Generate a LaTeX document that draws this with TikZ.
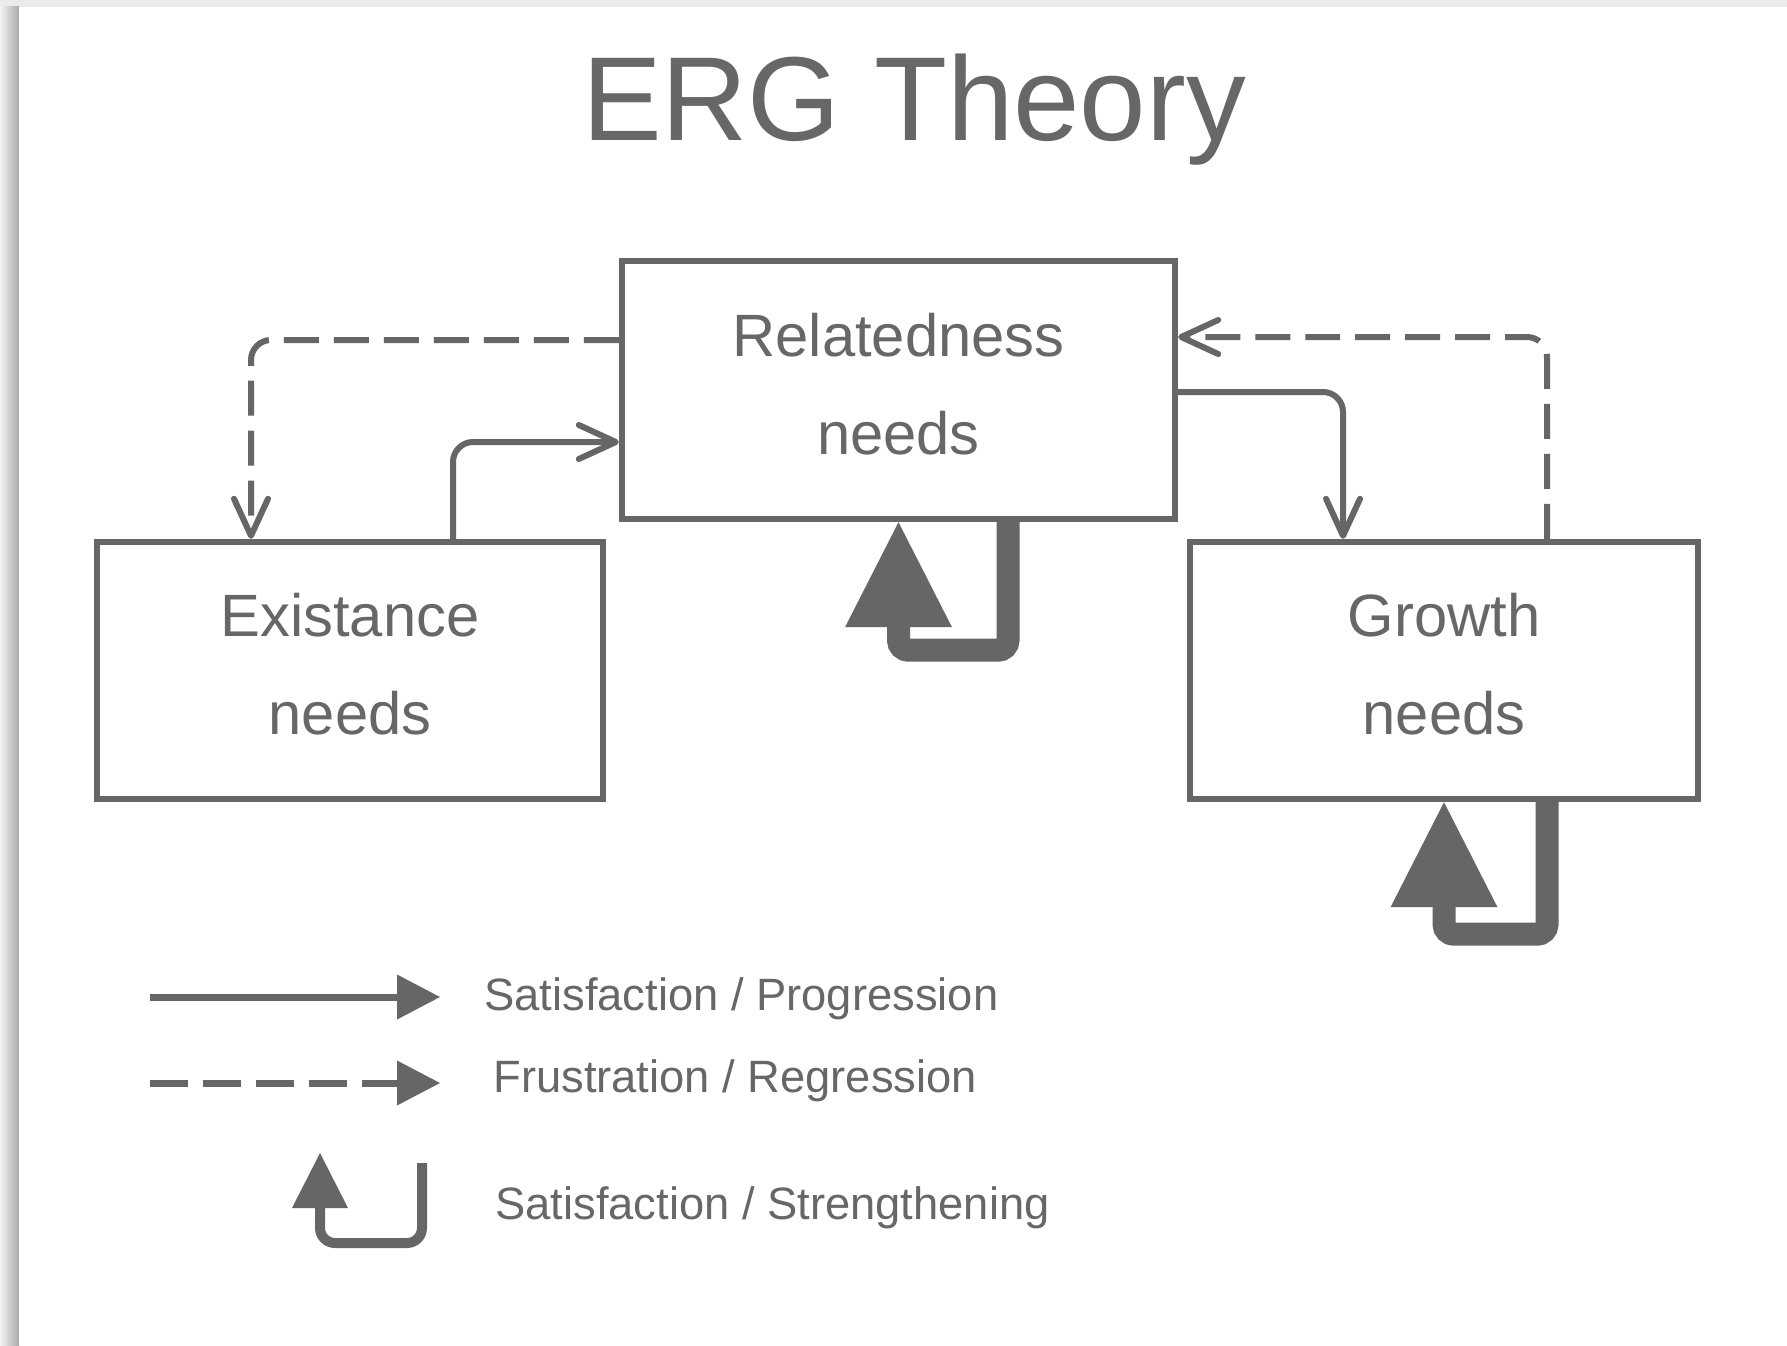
\documentclass[tikz,border=0pt]{standalone}
\usepackage{fontspec}
\setmainfont{Liberation Sans}
\usepackage{xcolor}
\usepackage{tikz}
\usetikzlibrary{positioning, arrows.meta}

\definecolor{ergline}{HTML}{666666}
\definecolor{ergtext}{HTML}{676767}
\definecolor{shadowlight}{HTML}{EBEBEB}
\definecolor{shadowdark}{HTML}{A9A9A9}

\begin{document}
\begin{tikzpicture}[
      x=0.02cm, y=-0.02cm,
      needbox/.style={rectangle, draw=ergline, line width=0.13cm, fill=white,
          text=ergtext, align=center, inner sep=0pt, text depth=0.26cm,
          font=\fontsize{34}{55.8}\selectfont},
      solidarr/.style={-{Straight Barb[length=0.74cm, width=0.68cm, round]},
          ergline, line width=0.12cm, rounded corners=0.4cm},
      dasharr/.style={solidarr, dash pattern=on 0.7cm off 0.3cm},
      loopback/.style={-{Triangle[length=2.1cm, width=2.14cm, line width=0pt]},
          ergline, line width=0.46cm, rounded corners=0.2cm},
      keysolid/.style={-{Triangle[length=0.86cm, width=0.9cm, line width=0pt]},
          ergline, line width=0.14cm},
      keydash/.style={keysolid, dash pattern=on 0.76cm off 0.3cm},
      keyloop/.style={-{Triangle[length=1.1cm, width=1.12cm, line width=0pt]},
          ergline, line width=0.2cm, rounded corners=0.3cm},
      keytext/.style={anchor=base west, text=ergtext, inner sep=0pt,
          font=\fontsize{25.8}{31}\selectfont},
    ]

    %% ── PAGE  (grey shadow on top and left) ─────────────────────────────────
    \useasboundingbox (0,0) rectangle (1787,1345);
    \fill[shadowlight] (0,0) rectangle (1787,1345);
    \shade[left color=shadowlight!60!white, right color=shadowdark]
      (0,7) rectangle (19,1345);
    \fill[white] (19,7) rectangle (1787,1345);

    %% ── TITLE ───────────────────────────────────────────────────────────────
    \node[anchor=base, text=ergtext, inner sep=0pt,
      font=\fontsize{68}{80}\selectfont] at (914,140) (title) {ERG Theory};

    %% ── NEEDS ───────────────────────────────────────────────────────────────
    \node[needbox, minimum width=11.06cm, minimum height=5.16cm]
      at (898.5,390) (rel) {Relatedness\\needs};
    \node[needbox, minimum width=10.12cm, minimum height=5.14cm]
      at (350,670.5) (exist) {Existance\\needs};
    \node[needbox, minimum width=10.16cm, minimum height=5.14cm]
      at (1444,670.5) (growth) {Growth\\needs};

    %% ── ARROWS ──────────────────────────────────────────────────────────────
    \draw[dasharr]  (rel.west |- 0,340)     -| (exist.north -| 251,0);
    \draw[solidarr] (exist.north -| 453,0)  |- (rel.west |- 0,442);
    \draw[solidarr] (rel.east |- 0,392)     -| (growth.north -| 1343,0);
    \draw[dasharr]  (growth.north -| 1547,0) |- (rel.east |- 0,337);

    \draw[loopback] (rel.south -| 1008,0)    -- ++(0,128) -| (rel.south);
    \draw[loopback] (growth.south -| 1547,0) -- ++(0,132) -| (growth.south);

    %% ── LEGEND ──────────────────────────────────────────────────────────────
    \coordinate (keyA) at (150,997);
    \coordinate (keyB) at (150,1083);
    \coordinate (keyC) at (422,1163);

    \node[keytext] at (484,1010) (lgProg) {Satisfaction / Progression};
    \node[keytext] at (493,1092) (lgReg)  {Frustration / Regression};
    \node[keytext] at (495,1219) (lgStr)  {Satisfaction / Strengthening};

    \draw[keysolid] (keyA) -- ++(290,0);
    \draw[keydash]  (keyB) -- ++(290,0);
    \draw[keyloop]  (keyC) -- ++(0,80) -| ++(-102,-90);

  \end{tikzpicture}
\end{document}
